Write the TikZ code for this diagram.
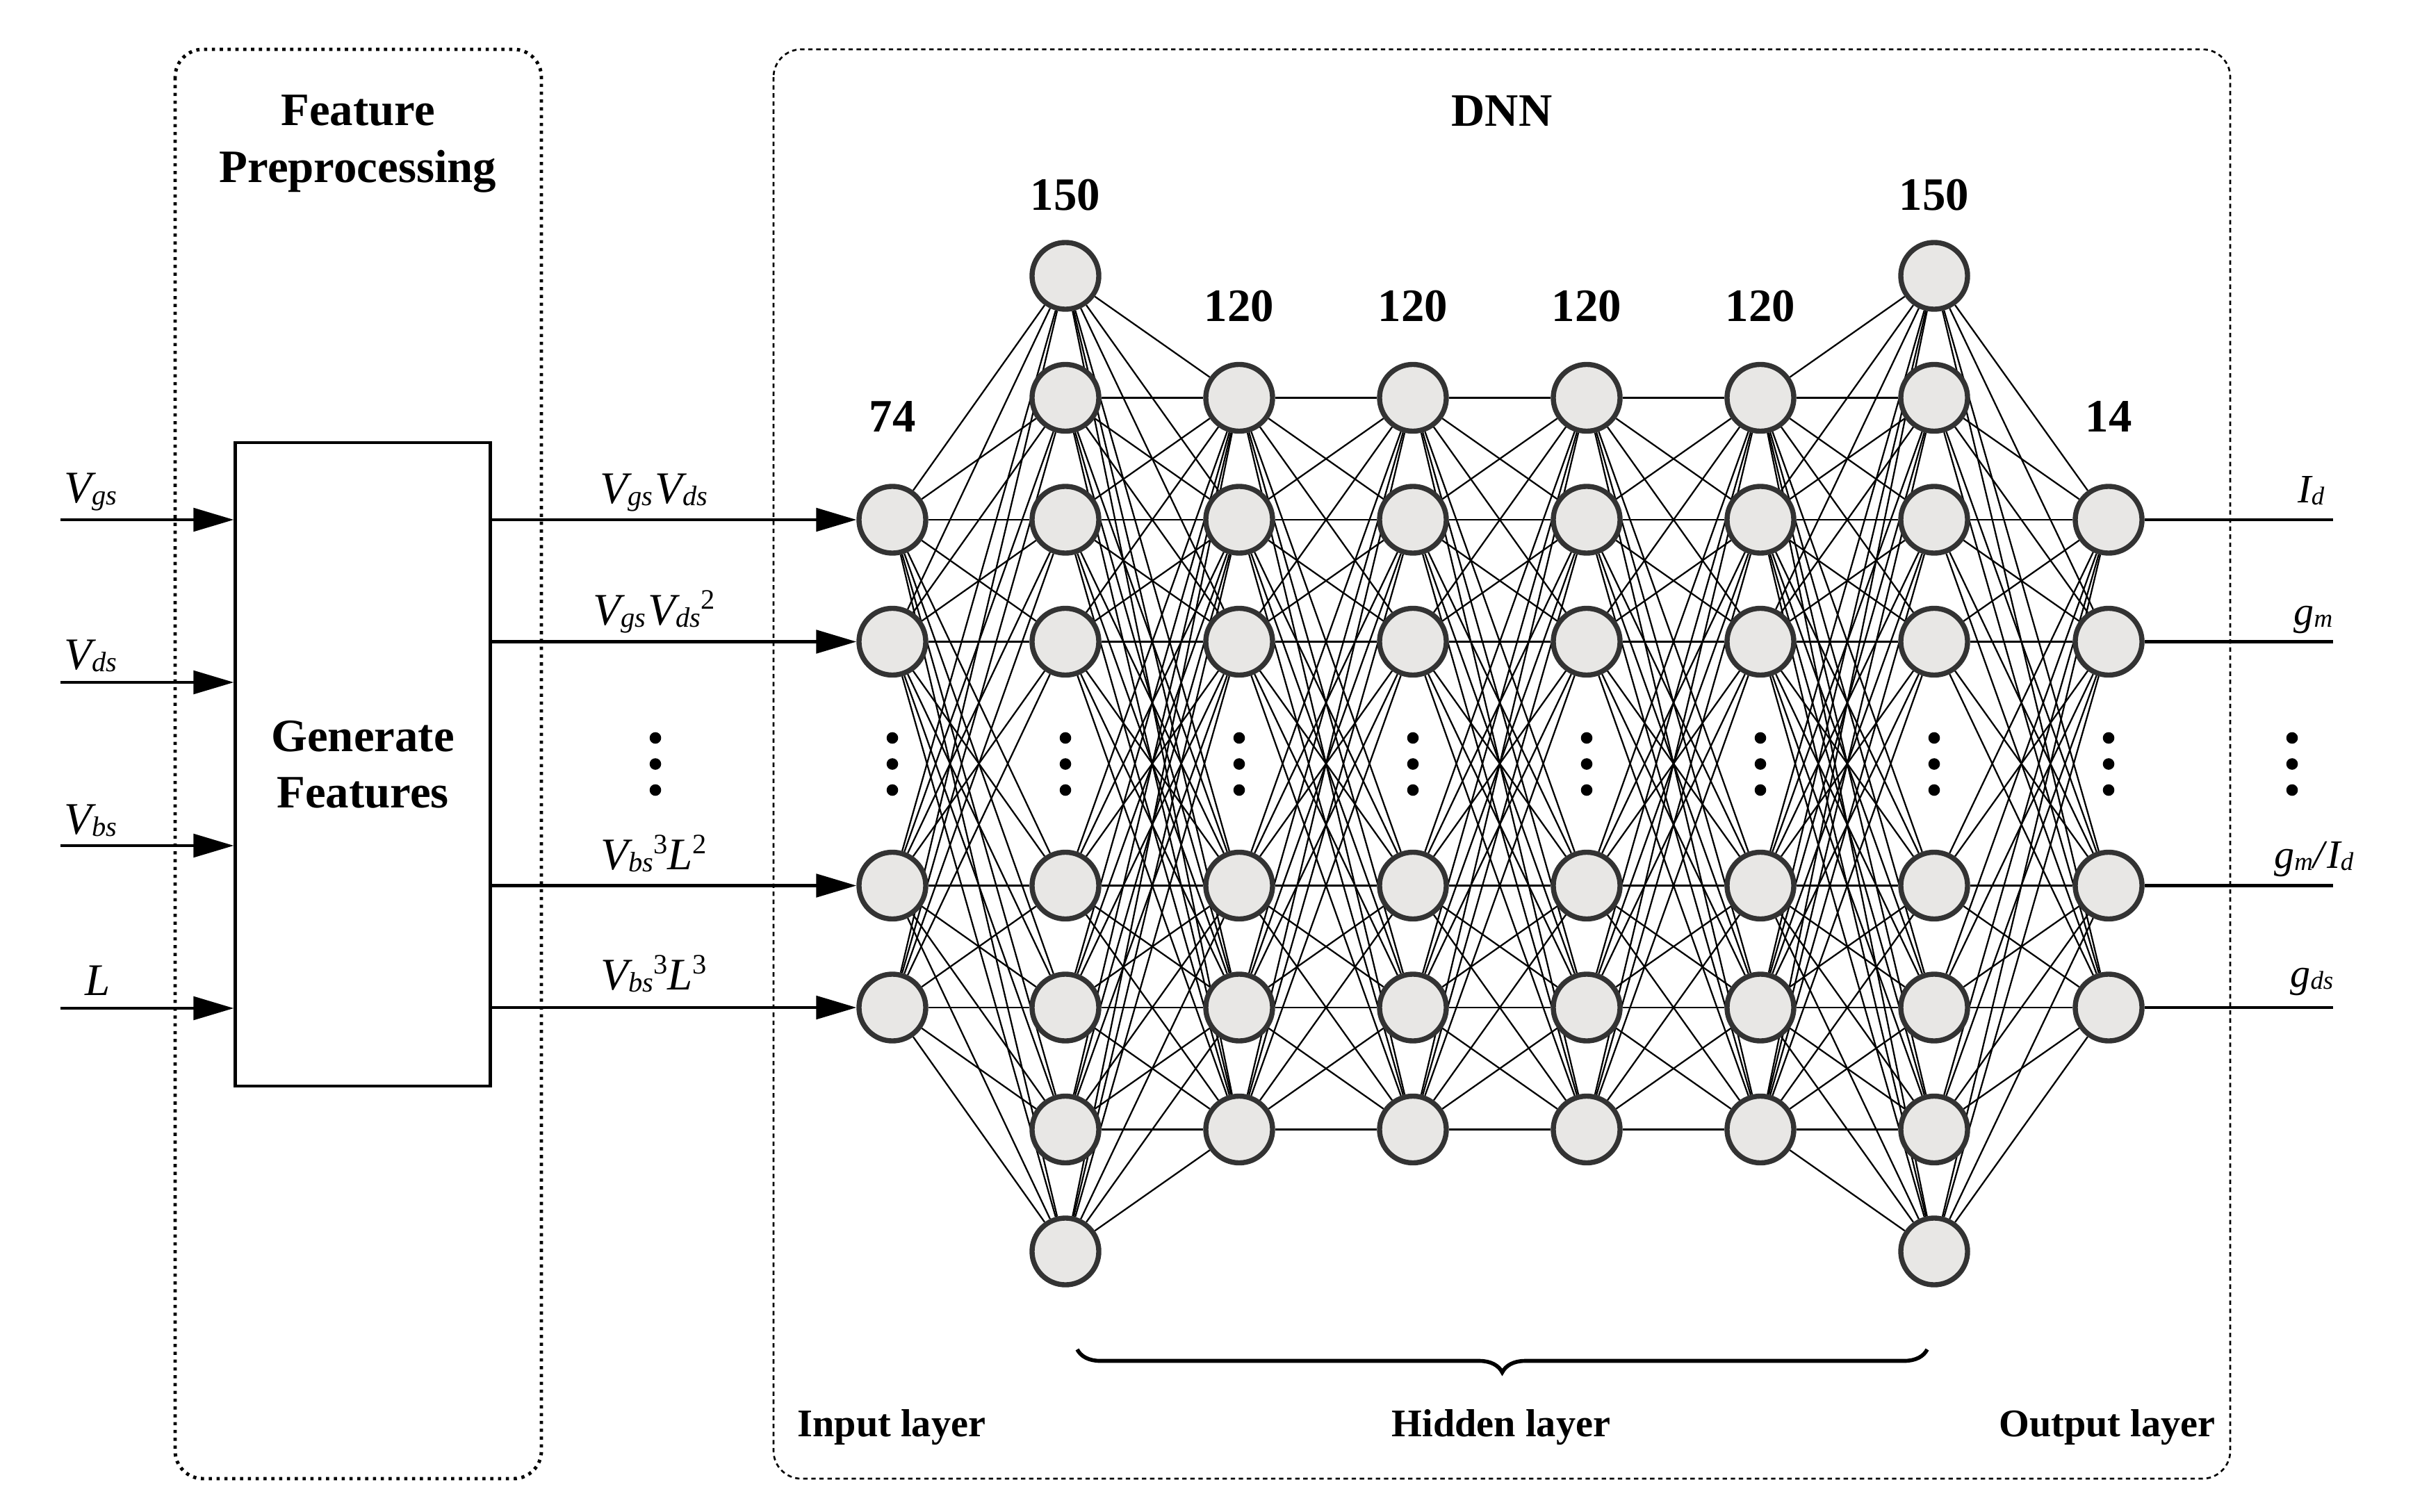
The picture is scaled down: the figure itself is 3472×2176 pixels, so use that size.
\documentclass[tikz,border=0pt]{standalone}
\usepackage{fontspec}
\setmainfont{Liberation Serif}
\usetikzlibrary{arrows.meta,decorations.pathreplacing,backgrounds}
\definecolor{nodefill}{HTML}{E8E7E5}
\definecolor{nodeedge}{HTML}{333333}
\newcommand{\bigb}{\bfseries\fontsize{19}{23}\selectfont}
\newcommand{\smallb}{\bfseries\fontsize{16}{19}\selectfont}
\newcommand{\varlbl}[2]{\textit{#1\raisebox{-1pt}{\fontsize{11.5}{12}\selectfont #2}}}
\newcommand{\varlblo}[2]{\textit{#1\raisebox{-1pt}{\fontsize{10.5}{12}\selectfont #2}}}
\newcommand{\supr}[1]{\raisebox{6.5pt}{\fontsize{11.5}{12}\selectfont\upshape #1}}
\begin{document}
\begin{tikzpicture}[x=0.01cm,y=-0.01cm,
  neuron/.style={circle,draw=nodeedge,fill=nodefill,line width=2.1pt,minimum size=0.96cm,inner sep=0pt},
  conn/.style={line width=0.65pt,black},
  arr/.style={line width=1.2pt,-{Triangle[length=16.5pt,width=9.5pt]}},
  outline/.style={line width=1.25pt},
  txt/.style={inner sep=0pt,anchor=base},
  inlbl/.style={inner sep=0pt,font=\fontsize{18.5}{22}\selectfont},
  outlbl/.style={inner sep=0pt,anchor=base east,font=\fontsize{16.5}{20}\selectfont},
  fpbox/.style={line width=1.4pt,dash pattern=on 1.3pt off 1.9pt,rounded corners=0.4cm},
  dnnbox/.style={line width=0.75pt,dash pattern=on 1.8pt off 1.5pt,rounded corners=0.4cm}
]
\useasboundingbox (0,0) rectangle (3472,2176);

% containers
\draw[fpbox] (252,71) rectangle (779,2128);
\draw[dnnbox] (1113,71) rectangle (3209,2128);

% titles
\node[txt] (fpt1) at (515,181) {\bigb Feature};
\node[txt] (fpt2) at (515,263) {\bigb Preprocessing};
\node[txt] (dnnt) at (2161,182) {\bigb DNN};

% generate box
\node[draw,outline,minimum width=3.666cm,minimum height=9.26cm,align=center,inner sep=0pt,font=\bigb] (gen) at (522,1100) {Generate\\Features};

% neurons
\foreach \l/\x/\rows in {0/1284/{2,3,5,6},1/1533/{0,1,2,3,5,6,7,8},2/1783/{1,2,3,5,6,7},3/2033/{1,2,3,5,6,7},4/2283/{1,2,3,5,6,7},5/2533/{1,2,3,5,6,7},6/2783/{0,1,2,3,5,6,7,8},7/3034/{2,3,5,6}}{
  \foreach \r in \rows {
    \node[neuron] (n\l-\r) at (\x,397+175.5*\r) {};
  }
}

% connections
\begin{scope}[on background layer]
\foreach \a in {2,3,5,6} \foreach \b in {0,1,2,3,5,6,7,8} \draw[conn] (n0-\a) -- (n1-\b);
\foreach \a in {0,1,2,3,5,6,7,8} \foreach \b in {1,2,3,5,6,7} \draw[conn] (n1-\a) -- (n2-\b);
\foreach \l/\m in {2/3,3/4,4/5} \foreach \a in {1,2,3,5,6,7} \foreach \b in {1,2,3,5,6,7} \draw[conn] (n\l-\a) -- (n\m-\b);
\foreach \a in {1,2,3,5,6,7} \foreach \b in {0,1,2,3,5,6,7,8} \draw[conn] (n5-\a) -- (n6-\b);
\foreach \a in {0,1,2,3,5,6,7,8} \foreach \b in {2,3,5,6} \draw[conn] (n6-\a) -- (n7-\b);
\end{scope}

% vertical dots
\foreach \x in {943,1284,1533,1783,2033,2283,2533,2783,3034,3298}
  \foreach \y in {1062,1099.5,1137}
    \fill (\x,\y) circle[radius=0.083cm];

% layer sizes
\node[txt] (c0) at (1284,621) {\bigb 74};
\node[txt] (c1) at (1533,303) {\bigb 150};
\node[txt] (c2) at (1783,463) {\bigb 120};
\node[txt] (c3) at (2033,463) {\bigb 120};
\node[txt] (c4) at (2283,463) {\bigb 120};
\node[txt] (c5) at (2533,463) {\bigb 120};
\node[txt] (c6) at (2783,303) {\bigb 150};
\node[txt] (c7) at (3034,621) {\bigb 14};

% inputs
\coordinate (ivgs) at (87,748);
\coordinate (ivds) at (87,982);
\coordinate (ivbs) at (87,1217);
\coordinate (il) at (87,1451);
\foreach \c in {ivgs,ivds,ivbs,il} \draw[arr] (\c) -- (\c -| gen.west);
\node[inlbl,anchor=base west] (lvgs) at (92,723) {\varlbl{V}{gs}};
\node[inlbl,anchor=base west] (lvds) at (92,963) {\varlbl{V}{ds}};
\node[inlbl,anchor=base west] (lvbs) at (92,1200) {\varlbl{V}{bs}};
\node[inlbl,anchor=base west] (ll) at (122,1432) {\textit{L}};

% features into input layer
\foreach \r in {2,3,5,6} \draw[arr] (gen.east |- n0-\r) -- (n0-\r);
\node[inlbl,anchor=base] (f1) at (941,724) {\varlbl{V}{gs}\kern1pt\varlbl{V}{ds}};
\node[inlbl,anchor=base] (f2) at (941,899) {\varlbl{V}{gs}\kern1pt\varlbl{V}{ds}\supr{2}};
\node[inlbl,anchor=base] (f3) at (941,1251) {\varlbl{V}{bs}\supr{3}\textit{L}\supr{2}};
\node[inlbl,anchor=base] (f4) at (941,1424) {\varlbl{V}{bs}\supr{3}\textit{L}\supr{3}};

% outputs
\coordinate (oend) at (3357,0);
\foreach \r in {2,3,5,6} \draw[outline] (n7-\r) -- (n7-\r -| oend);
\node[outlbl] (oid) at (3345,723) {\varlblo{I}{d}};
\node[outlbl] (ogm) at (3357,899) {\varlblo{g}{m}};
\node[outlbl] (ogmid) at (3387,1249) {\varlblo{g}{m}\textit{/}\varlblo{I}{d}};
\node[outlbl] (ogds) at (3358,1420) {\varlblo{g}{ds}};

% brace and layer names
\coordinate (bl) at (1550,1942);
\coordinate (br) at (2773,1942);
\draw[decorate,decoration={brace,amplitude=0.33cm,mirror},line width=1.6pt] (bl) -- (br);
\node[txt] (linput) at (1283,2067) {\smallb Input layer};
\node[txt] (lhidden) at (2160,2067) {\smallb Hidden layer};
\node[txt] (loutput) at (3032,2067) {\smallb Output layer};
\end{tikzpicture}
\end{document}
